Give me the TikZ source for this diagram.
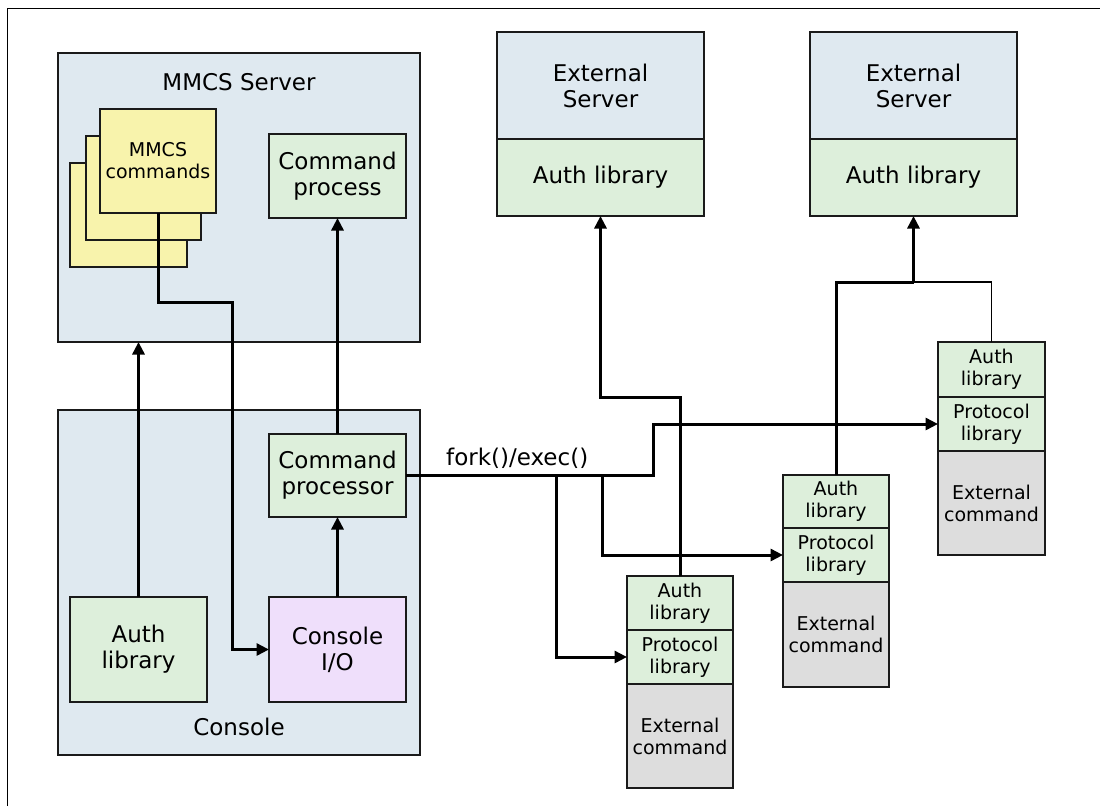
\documentclass[tikz,border=0pt]{standalone}
\usepackage{fontspec}
\setmainfont{DejaVu Sans}
\usetikzlibrary{arrows.meta}
\definecolor{panelblue}{HTML}{DFE9F0}
\definecolor{libgreen}{HTML}{DDEFDB}
\definecolor{cmdyellow}{HTML}{F8F3AC}
\definecolor{iolilac}{HTML}{EFDFFB}
\definecolor{extgray}{HTML}{DDDDDD}
\definecolor{edge}{HTML}{1A1A1A}
\tikzset{
  box/.style={draw=edge, line width=1.7pt, inner sep=0pt, outer sep=0pt, align=center,
              font=\fontsize{23}{26}\selectfont},
  smallbox/.style={box, font=\fontsize{19}{22}\selectfont},
  title/.style={inner sep=0pt, font=\fontsize{23}{26}\selectfont},
  arr/.style={line width=3pt, -{Triangle[length=12.5pt,width=12pt]}},
  thick link/.style={line width=3pt},
  thin link/.style={line width=1.6pt}
}
\begin{document}
\begin{tikzpicture}[x=1pt, y=-1pt]
\useasboundingbox (0,0) rectangle (1100,806);
% page frame (top and left rules)
\draw[line width=1pt] (7,806) -- (7,8) -- (1100,8);

% MMCS server
\node[box, fill=panelblue, minimum width=362, minimum height=289] (mmcs) at (239,197.5) {};
\node[title] (mmcslabel) at (239,82) {MMCS Server};
\node[smallbox, fill=cmdyellow, minimum width=117, minimum height=104] (cardC) at (128.5,215) {};
\node[smallbox, fill=cmdyellow, minimum width=115, minimum height=104] (cardB) at (143.5,188) {};
\node[smallbox, fill=cmdyellow, minimum width=116, minimum height=104] (cardA) at (158,161) {MMCS\\commands};
\node[box, fill=libgreen, minimum width=137, minimum height=84] (cmdproc) at (337.5,176) {Command\\process};

% Console
\node[box, fill=panelblue, minimum width=362, minimum height=345] (console) at (239,582.5) {};
\node[title] (consolelabel) at (239,727) {Console};
\node[box, fill=libgreen, minimum width=137, minimum height=83] (cpr) at (337.5,475.5) {Command\\processor};
\node[box, fill=libgreen, minimum width=137, minimum height=105] (authc) at (138.5,649.5) {Auth\\library};
\node[box, fill=iolilac, minimum width=137, minimum height=105] (cio) at (337.5,649.5) {Console\\I/O};

% External servers
\node[box, fill=panelblue, minimum width=207, minimum height=107] (es1s) at (600.5,85.5) {External\\Server};
\node[box, fill=libgreen, minimum width=207, minimum height=77] (es1a) at (600.5,177.5) {Auth library};
\node[box, fill=panelblue, minimum width=207, minimum height=107] (es2s) at (913.5,85.5) {External\\Server};
\node[box, fill=libgreen, minimum width=207, minimum height=77] (es2a) at (913.5,177.5) {Auth library};

% external command stacks
\node[smallbox, fill=libgreen, minimum width=106, minimum height=54] (s1a) at (680,603) {Auth\\library};
\node[smallbox, fill=libgreen, minimum width=106, minimum height=54] (s1p) at (680,657) {Protocol\\library};
\node[smallbox, fill=extgray, minimum width=106, minimum height=104] (s1e) at (680,736) {External\\command};

\node[smallbox, fill=libgreen, minimum width=106, minimum height=53] (s2a) at (836,501.5) {Auth\\library};
\node[smallbox, fill=libgreen, minimum width=106, minimum height=54] (s2p) at (836,555) {Protocol\\library};
\node[smallbox, fill=extgray, minimum width=106, minimum height=105] (s2e) at (836,634.5) {External\\command};

\node[smallbox, fill=libgreen, minimum width=107, minimum height=55] (s3a) at (991.5,369.5) {Auth\\library};
\node[smallbox, fill=libgreen, minimum width=107, minimum height=54] (s3p) at (991.5,424) {Protocol\\library};
\node[smallbox, fill=extgray, minimum width=107, minimum height=104] (s3e) at (991.5,503) {External\\command};

% connectors inside the console and MMCS server
\draw[arr] (authc.north) -- (authc.north |- mmcs.south);
\draw[arr] (cpr.north) -- (cmdproc.south);
\draw[arr] (cio.north) -- (cpr.south);
\coordinate (cmdbend) at (232,302);
\draw[arr] (cardA.south) |- (cmdbend) |- (cio.west);

% fork()/exec() fan-out
\coordinate (f3) at (653,424);
\coordinate (b1) at (556,0);
\coordinate (b2) at (602,0);
\draw[arr] (cpr.east) -| (f3) -- (s3p.west);
\draw[arr] (b1 |- cpr.east) |- (s1p.west);
\draw[arr] (b2 |- cpr.east) |- (s2p.west);
\node[title, anchor=west] (forklabel) at (446,458) {fork()/exec()};

% authentication paths to external servers
\coordinate (a1) at (600.5,397);
\draw[arr] (s1a.north) |- (a1) -- (es1a.south);
\coordinate (a2) at (913.5,282);
\draw[thick link] (s2a.north) |- (a2);
\draw[arr] (a2) -- (es2a.south);
\draw[thin link] (s3a.north) |- (a2);
\end{tikzpicture}
\end{document}
